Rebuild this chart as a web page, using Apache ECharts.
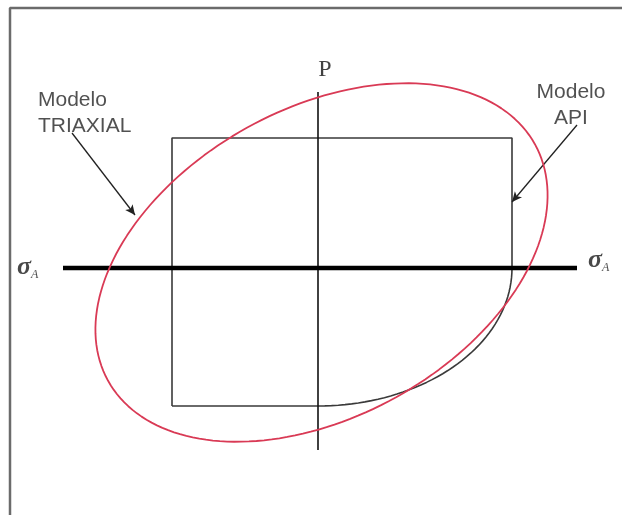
<!DOCTYPE html>
<html>
<head>
<meta charset="utf-8">
<title>Modelo TRIAXIAL vs Modelo API</title>
<script src="https://cdn.jsdelivr.net/npm/echarts@6/dist/echarts.min.js"></script>
<style>
  html, body { margin: 0; padding: 0; background: #fff; }
  #chart { width: 622px; height: 515px; }
</style>
</head>
<body>
<div id="chart"></div>
<script>
// diagram units: origin where the two axes cross, y pointing up (1 unit ~ 1 px)
const frameLine = [[-308, -247], [-308, 260], [304, 260]]
const sigmaAxis = [[-255, 0], [259, 0]]
const pAxis = [[0, 176], [0, -182]]

// Modelo API: box with its lower right corner rounded off
const apiBox = [[-146, -138], [0, -138]]
const apiBoxRest = [[194, 0], [194, 130], [-146, 130], [-146, -138]]
const apiCorner = { center: [0, 0], radii: [194, 138], tilt: 0, from: 270, to: 360 }

// Modelo TRIAXIAL: tilted ellipse
const triaxial = { center: [3.5, 5.5], radii: [244, 154], tilt: 29, from: 0, to: 360 }

const arrowTriaxial = [[-246, 135], [-183, 53]]
const arrowApi = [[259, 143], [194, 66]]

const textLabels = [
  [-280, 168, 'Modelo', 'left'],
  [-280, 142, 'TRIAXIAL', 'left'],
  [253, 176, 'Modelo', 'center'],
  [253, 150, 'API', 'center']
]
const pLabel = [[7, 198, 'P']]
const sigmaLabels = [[-301, 1], [270, 8]]

function ellipsePoints(e) {
  const pts = []
  const t = e.tilt * Math.PI / 180
  for (let d = e.from; d <= e.to; d += 2) {
    const s = d * Math.PI / 180
    const u = e.radii[0] * Math.cos(s)
    const v = e.radii[1] * Math.sin(s)
    pts.push([e.center[0] + u * Math.cos(t) - v * Math.sin(t),
              e.center[1] + u * Math.sin(t) + v * Math.cos(t)])
  }
  return pts
}

const apiPath = apiBox.concat(ellipsePoints(apiCorner), apiBoxRest)

function plainLine(name, data, color, width, z) {
  return {
    name: name, type: 'line', data: data, showSymbol: false, silent: true, z: z,
    lineStyle: { color: color, width: width }
  }
}

function arrow(name, pts) {
  return {
    name: name, type: 'line', data: [], silent: true, z: 6,
    markLine: {
      silent: true, animation: false,
      symbol: ['none', 'arrow'], symbolSize: [7, 10],
      label: { show: false },
      lineStyle: { color: '#222', width: 1.3, type: 'solid' },
      data: [[{ coord: pts[0] }, { coord: pts[1] }]]
    }
  }
}

const myChart = echarts.init(document.getElementById('chart'))
myChart.setOption({
  animation: false,
  backgroundColor: '#fff',
  grid: { left: 0, right: 0, top: 0, bottom: 0 },
  xAxis: { type: 'value', min: -318, max: 304, show: false },
  yAxis: { type: 'value', min: -247, max: 268, show: false },
  series: [
    plainLine('frame', frameLine, '#6b6b6b', 2.5, 1),
    plainLine('API', apiPath, '#3a3a3a', 1.6, 2),
    plainLine('P', pAxis, '#111', 1.6, 3),
    plainLine('sigmaA', sigmaAxis, '#000', 4.5, 4),
    plainLine('TRIAXIAL', ellipsePoints(triaxial), '#d93a55', 1.8, 5),
    arrow('arrowTriaxial', arrowTriaxial),
    arrow('arrowApi', arrowApi),
    {
      name: 'texts', type: 'scatter', symbolSize: 0, silent: true, z: 7,
      data: textLabels.map(function (d) {
        return { value: [d[0], d[1]], name: d[2], label: { align: d[3] } }
      }),
      label: {
        show: true, position: [0, 0], verticalAlign: 'middle',
        fontFamily: 'Liberation Sans, Arial, sans-serif', fontSize: 21, color: '#262626',
        formatter: '{b}'
      }
    },
    {
      name: 'pText', type: 'scatter', symbolSize: 0, silent: true, z: 7,
      data: pLabel.map(function (d) { return { value: [d[0], d[1]], name: d[2] } }),
      label: {
        show: true, position: [0, 0], align: 'center', verticalAlign: 'middle',
        fontFamily: 'Liberation Serif, Times New Roman, serif', fontSize: 24, color: '#111',
        formatter: '{b}'
      }
    },
    {
      name: 'sigmaText', type: 'scatter', symbolSize: 0, silent: true, z: 7,
      data: sigmaLabels,
      label: {
        show: true, position: [0, 0], align: 'left', verticalAlign: 'middle',
        formatter: '{s|σ}{a|A}',
        rich: {
          s: { fontFamily: 'Liberation Serif, serif', fontStyle: 'italic', fontWeight: 'bold', fontSize: 26, color: '#1a1a1a' },
          a: { fontFamily: 'Liberation Serif, serif', fontStyle: 'italic', fontSize: 12, color: '#1a1a1a', padding: [16, 0, 0, 0] }
        }
      }
    }
  ]
})
</script>
</body>
</html>
